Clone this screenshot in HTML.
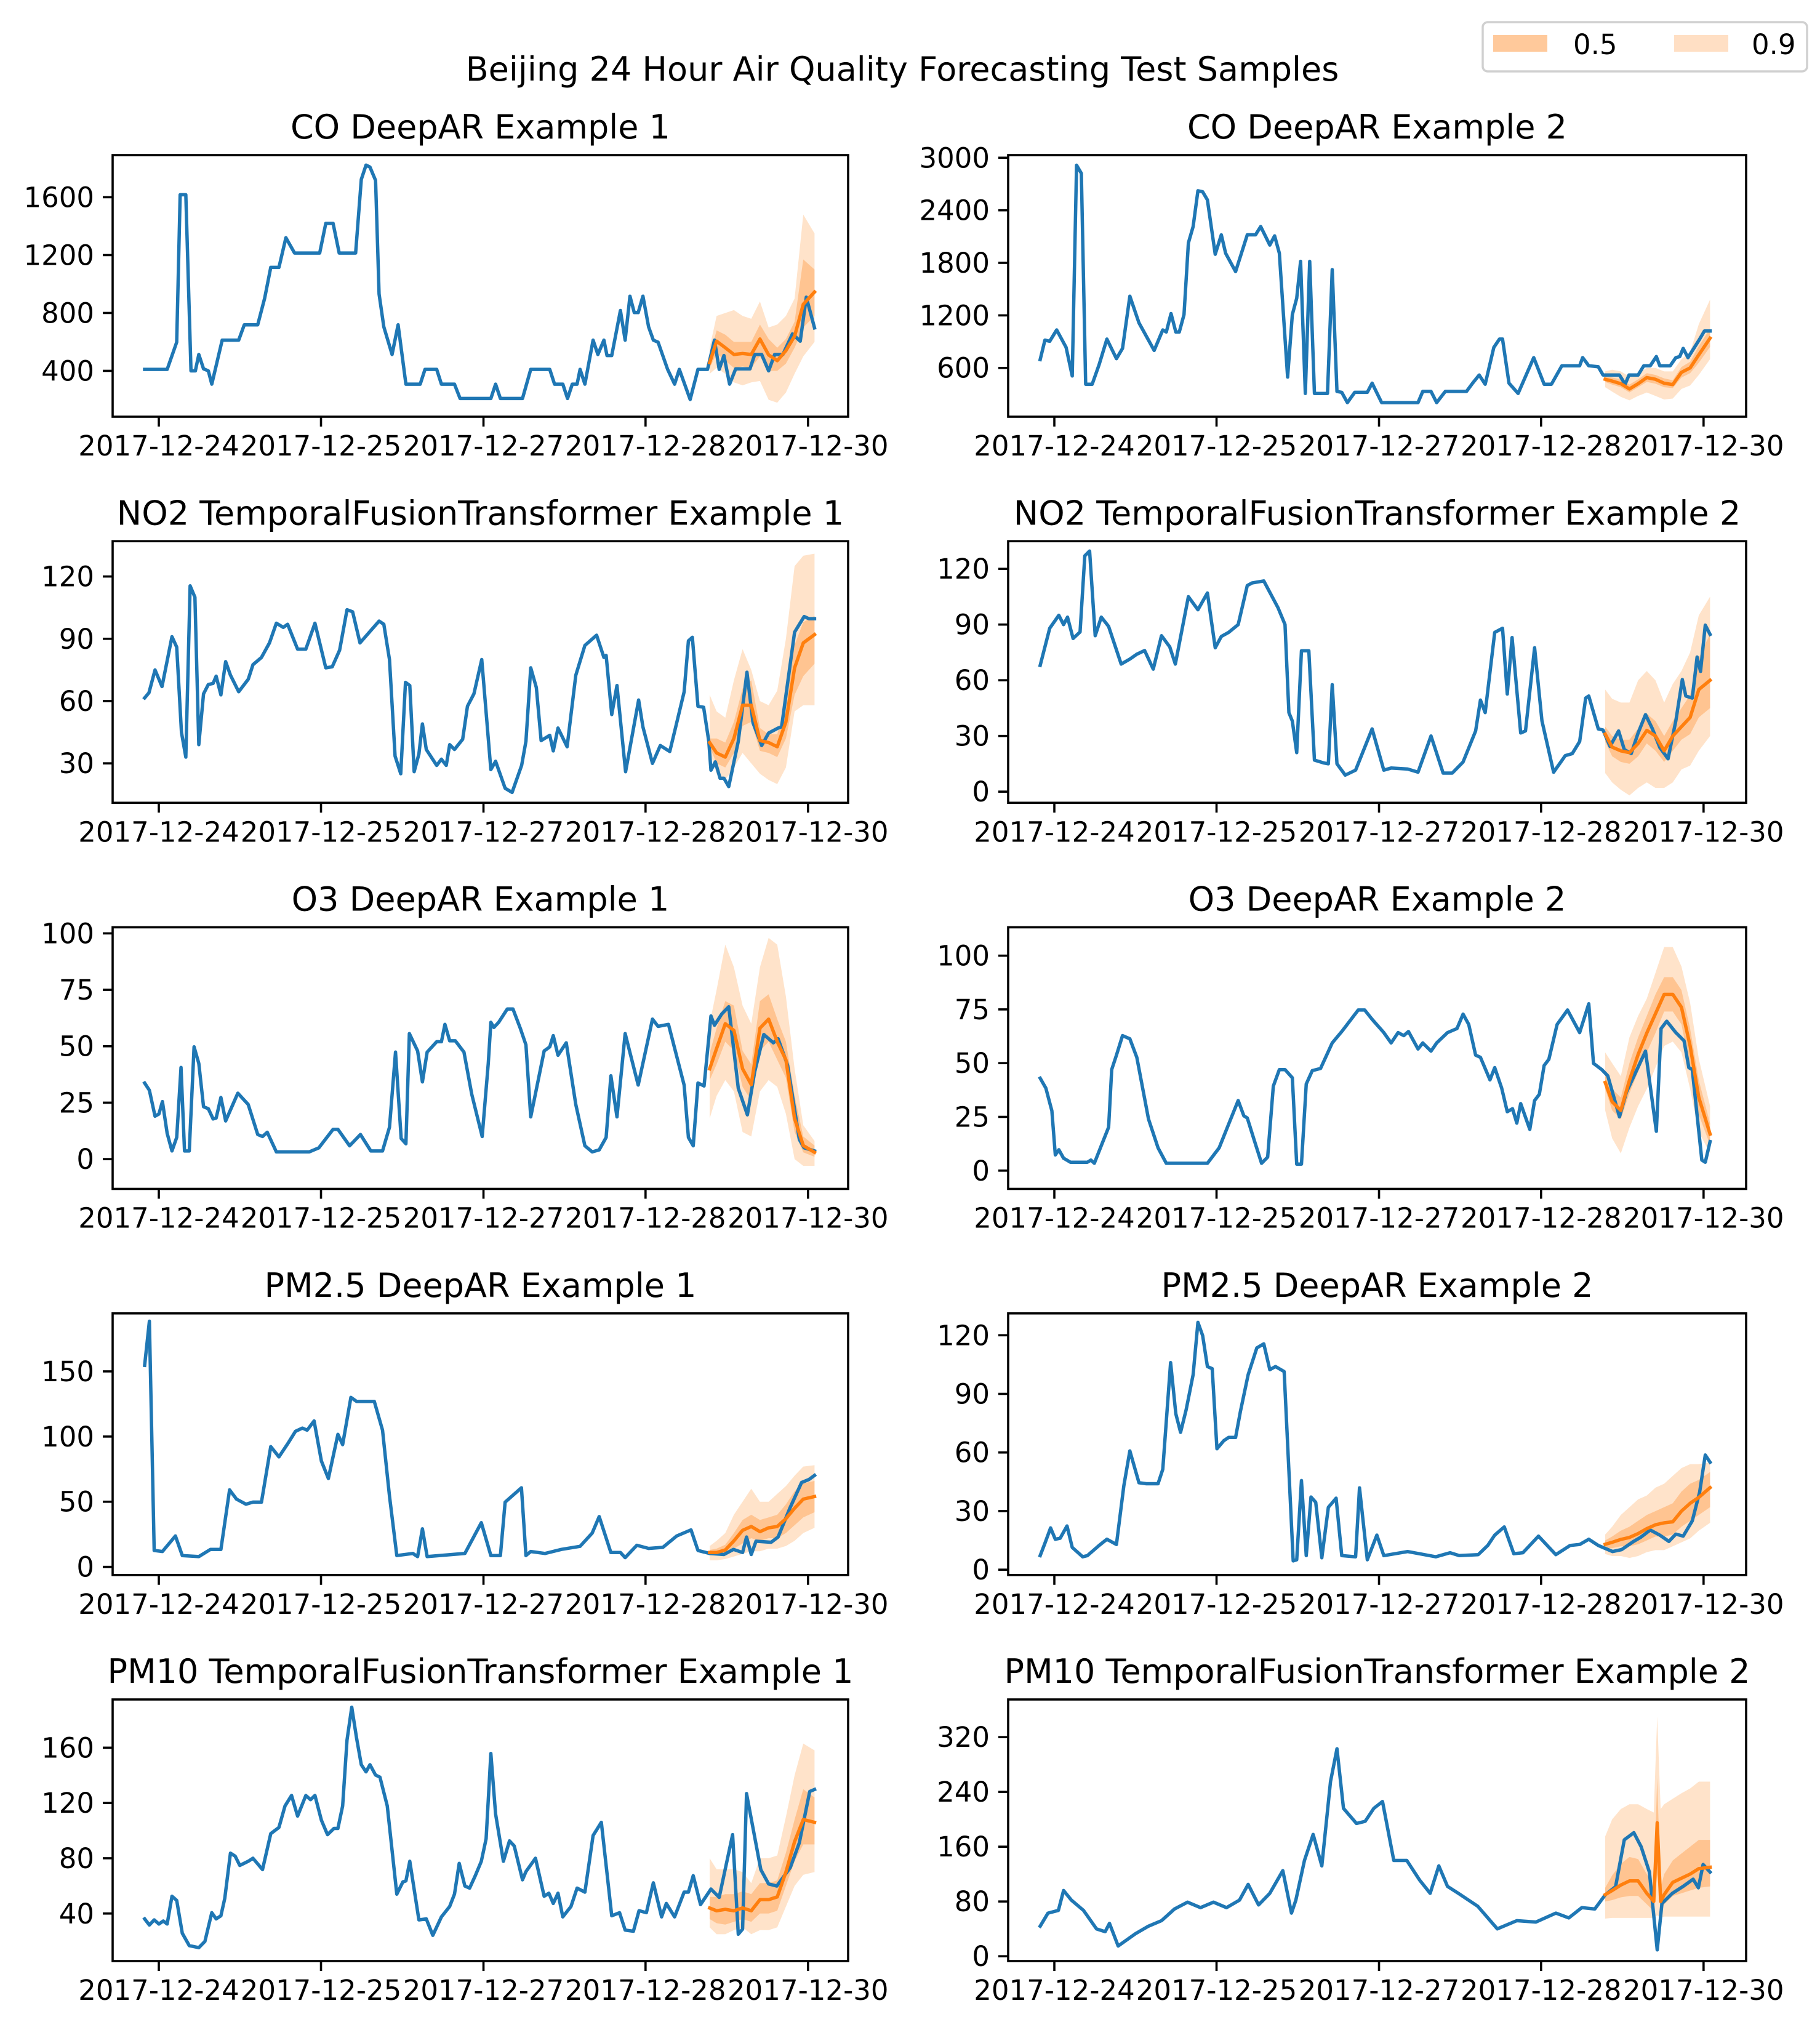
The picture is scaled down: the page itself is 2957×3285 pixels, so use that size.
<!DOCTYPE html>
<html><head><meta charset="utf-8"><title>Beijing 24 Hour Air Quality Forecasting Test Samples</title>
<style>
html,body{margin:0;padding:0;background:#fff;}
svg{display:block;font-family:"DejaVu Sans","Liberation Sans",sans-serif;}
</style></head>
<body>
<svg id="fig" width="2957" height="3285" viewBox="0 0 2957 3285" xmlns="http://www.w3.org/2000/svg">
<rect x="0" y="0" width="2957" height="3285" fill="#fff"/>
<text x="1466" y="131" font-size="54" text-anchor="middle" fill="#000">Beijing 24 Hour Air Quality Forecasting Test Samples</text>
<g>
<rect x="2409" y="36" width="527" height="80" rx="8" fill="#fff" stroke="#d0d0d0" stroke-width="3.5"/>
<rect x="2426" y="57" width="88" height="27" fill="#ffc99b"/>
<text x="2556" y="88" font-size="45" fill="#000">0.5</text>
<rect x="2720" y="57" width="88" height="27" fill="#ffdfc4"/>
<text x="2846" y="88" font-size="45" fill="#000">0.9</text>
</g>
<g id="panels"></g>
</svg>
<script>
// ---------- shared x-axis data ----------
const xTickH = [3.27, 40.7, 78.2, 115.6, 153.1];
const xTickLabels = ["2017-12-24", "2017-12-25", "2017-12-27", "2017-12-28", "2017-12-30"];
const fcHours = [130.4,132,134,136,138,140,142,144,146,148,150,152,154.6];

// ---------- CO DeepAR Example 1 ----------
const co1Ticks = [400,800,1200,1600];
const co1H = [0,5.2,7.4,8.2,9.5,10.7,11.7,12.5,13.6,14.7,15.5,17.9,21.7,23,26.1,27.7,29.1,31,32.6,34.6,40.4,41.8,43.5,44.9,48.7,50,51.1,52,53.3,54.1,55.2,57.1,58.5,60.3,63.6,64.7,67.4,68.5,71.5,72.8,79.9,81,82.1,87.2,89.1,93.5,94.6,96.5,97.6,98.7,99.8,100.5,101.6,103.5,104.6,106,106.7,107.8,109.8,110.9,112,113,113.9,115,116.3,117.4,118.5,120.7,122.3,123.4,125.9,127.7,129.9,131.5,132.6,133.7,135,136.4,139.7,140.8,142.4,144,145.4,147.3,149.5,151.3,152.7,154.6];
const co1V = [410,410,598,1617,1617,400,400,513,414,400,308,612,612,718,718,902,1115,1115,1320,1214,1214,1419,1419,1214,1214,1723,1822,1808,1716,931,704,513,718,308,308,410,410,308,308,209,209,308,209,209,410,410,308,308,209,308,308,410,308,612,513,612,506,506,817,612,916,803,803,916,704,612,598,410,308,410,202,410,410,612,410,506,308,414,414,513,513,400,513,513,655,605,909,697];
const co1Med = [457,605,560,513,520,513,620,510,470,540,640,860,945];
const co1Lo50 = [420,520,470,420,430,420,500,400,400,450,560,700,780];
const co1Hi50 = [500,680,650,600,600,600,720,620,560,620,740,1170,1100];
const co1Lo90 = [380,420,380,320,300,320,330,200,180,250,380,500,600];
const co1Hi90 = [560,780,800,820,780,760,880,700,720,780,900,1480,1350];

// ---------- CO DeepAR Example 2 ----------
const co2Ticks = [600,1200,1800,2400,3000];
const co2H = [0,1.1,2.2,3.8,5.98,7.4,8.4,9.5,10.5,12,13.6,15.4,17.6,19,20.7,22.8,26.3,28.3,29.1,30.2,31.3,32.1,33.2,34.2,35.3,36.4,37.5,38.6,40.4,41.8,42.8,45.1,47.8,49.7,50.9,53,54.1,55.2,57.1,58.2,59.2,60.1,61.2,62.2,63.3,66.3,67.4,68.5,69.6,70.9,72.6,75.5,76.6,78.8,87.2,88.3,90.2,91.5,93.5,98.4,99.8,101.3,102.7,104.7,106,106.7,108.2,110.3,113.9,116.3,118,120.4,124.5,125.2,126.6,128.8,129.9,133.7,135,135.9,138,139.3,140.8,142.2,143,145.4,146.7,147.6,148.4,149.5,152.2,153.3,154.6];
const co2V = [695,917,905,1034,835,508,2915,2822,414,414,636,929,706,823,1419,1115,800,1034,1010,1221,1010,1010,1209,2027,2214,2623,2611,2518,1898,2120,1910,1700,2120,2120,2214,2003,2108,1910,496,1209,1396,1817,309,1817,309,309,1723,332,321,204,321,321,426,204,204,332,332,204,332,332,426,519,414,835,929,929,426,309,718,414,414,625,625,718,625,613,519,519,414,519,519,625,625,730,625,625,718,730,823,718,929,1022,1022];
const co2Med = [470,450,420,360,420,490,470,425,410,550,600,750,940];
const co2Lo50 = [440,410,380,320,380,440,420,380,370,490,540,660,840];
const co2Hi50 = [500,490,470,410,470,540,520,480,460,610,670,850,1050];
const co2Lo90 = [380,330,270,230,280,320,280,240,250,360,400,520,700];
const co2Hi90 = [560,580,560,500,540,600,600,560,560,700,780,1100,1380];

// ---------- NO2 TFT Example 1 ----------
const no21Ticks = [30,60,90,120];
const no21H = [0,1,2.4,4,6.3,7.4,8.5,9.5,10.5,11.6,12.5,13.6,14.7,15.8,16.5,17.6,18.7,19.8,21.7,23.9,25,26.96,28.8,30.4,32,33,35.3,37.2,39.3,41.8,43.3,45,46.7,48,49.7,52.2,54.1,55.2,56.5,57.8,59.1,60.2,61.2,62.2,63.3,64.1,65,67.4,68.5,69.6,70.4,71.5,73.4,74.5,76,77.8,79.9,81,83.2,84.8,87,88,89.1,90.4,91.5,93.5,94.3,95.4,97.5,99.5,101.6,104.3,106,106.5,107.8,109,111,114,115,117.2,119,121.2,122.8,124.5,125.5,126.4,127.7,129,130.2,130.7,131.7,132.8,133.7,134.8,137,139,140.4,142.4,144,146.2,147,150,152.2,153.3,154.6];
const no21V = [61.5,64,75,67,91,86,45,33,115.5,110,39,63.5,68,68.5,72,63,79,72.5,64.5,70.5,77.5,81,88,97.5,95.5,97,85,85,97.5,76,76.5,84.5,104,103,88,94,98.5,97,80,33.5,25,69,67.5,26,34.5,49,36.7,29,32,29,39,36.7,41.6,57.5,63.5,80,27,31,18,16,29,40.6,76,66.5,41,43.5,36,47,38,72.4,86.8,91.7,81,82,53.5,67.5,26,60.5,47.5,30,38.6,35.7,49.6,64.4,89,90.7,57.5,57,40.6,26.7,30.7,22.8,22.8,18.8,40.6,73.9,49.6,38.6,44.6,47,47.6,93.2,100.7,99.7,99.7];
const no21Med = [40,35,33,42,58,58,41,40,38,50,76,88,92];
const no21Lo50 = [38,30,28,35,48,50,36,35,33,42,63,72,78];
const no21Hi50 = [42,42,40,50,66,70,47,44,44,60,87,98,101];
const no21Lo90 = [36,25,22,28,35,30,25,22,20,28,55,58,58];
const no21Hi90 = [63,55,52,70,85,75,60,58,65,90,125,130,131];

// ---------- NO2 TFT Example 2 ----------
const no22Ticks = [0,30,60,90,120];
const no22H = [0,2.2,4.3,5.4,6.3,7.6,9.2,10.3,11.4,12.7,14.1,15.8,18.7,20.7,22.3,24.1,26.1,28,29.9,31.2,34.2,36.4,38.6,40.4,41.8,43.5,45.7,47.8,48.9,51.6,54.9,56.5,57.4,58.2,59.2,60.3,62,63.3,65.4,66.5,67.4,68.5,70.4,72.8,76.6,79.3,81,84.8,87.2,90.2,93,95.1,97.6,100.5,101.6,102.7,104.9,106.7,107.8,108.9,110.9,112,114.1,115.8,118.5,121.2,122.8,124.5,125.9,126.6,128.8,129.9,131.5,133.5,134.8,136.4,138,139.7,141.3,143,144.9,146.7,148.2,149,150.5,151.6,152.4,153.5,154.6];
const no22V = [68,88,95,90,94,82.5,86,127,129.6,84,94,89,68.7,71.4,74,76,66,84,78,68.7,105,98,107,77.5,83.6,85.8,90,111,112.4,113.5,99,90,42.6,38,21,75.9,75.9,17,15.5,15,57.6,15,8.9,11.6,33.8,11.6,12.7,12.2,10.5,30,10,10,16,32.7,49.3,42.6,85.8,88,52.6,83,31.6,32.7,77.5,38.2,10.5,19.4,20.5,27,50.4,51.5,33.8,33.2,24.4,32.7,22.7,20.5,31.6,41.5,33.8,23.8,17.7,38.2,60.4,51.5,50.4,72.5,64.8,89.7,84.7];
const no22Med = [31,24,22,21,26,33,30,22,30,35,40,55,60];
const no22Lo50 = [27,19,16,15,19,26,22,16,22,28,31,40,45];
const no22Hi50 = [35,30,28,28,34,42,38,30,38,45,52,72,85];
const no22Lo90 = [10,5,1,-2,2,5,2,2,5,12,14,22,30];
const no22Hi90 = [55,50,48,48,60,65,60,48,58,65,75,95,105];

// ---------- O3 DeepAR Example 1 ----------
const o31Ticks = [0,25,50,75,100];
const o31H = [0,1.1,2.4,3.3,4.1,5.2,6.3,7.4,8.4,9.2,10.3,11.4,12.5,13.6,14.7,15.8,16.5,17.6,18.7,21.5,23.9,26.1,27.2,28.3,30.4,38,40.2,43.5,44.6,47.3,49.8,52.2,54.9,56.5,57.9,59.2,60.3,61.1,63,64.1,65.2,67.4,68.5,69.3,70.4,71.7,73.7,75.5,77.9,79.3,79.9,80.6,81.7,83.7,85,86.7,88,89.1,92.2,93.5,94.3,95.4,97.3,99.5,101.6,103.3,104.9,106.5,107.6,109,110.9,113.9,117.2,118.5,120.9,124.5,125.5,126.6,127.7,129.1,130.7,131.5,133.2,134.8,137,139.1,140.8,142.9,145.1,146.2,148.4,151.1,152.2,154.6];
const o31V = [33.7,30.5,19,20,25.5,11.4,3.6,9.6,40.6,3.6,3.6,49.7,42.4,23.2,22.3,17.8,18.2,27.3,16.9,29.2,24.2,10.9,10,11.9,3.2,3.2,5,13.2,13.2,5.9,10.9,3.6,3.6,14.1,47.4,9.1,6.8,55.6,47.9,34.2,47.4,52,52,59.7,52.4,52.4,47.4,28.7,10,42.4,60.6,58.3,60.6,66.5,66.5,57.9,50.6,18.7,47.9,49.7,54.7,46,51.5,24.2,5.9,3.2,4.1,9.6,36.9,18.7,55.6,32.8,62,58.8,59.7,32.8,9.6,5.9,33.7,32.4,63.4,59.3,64.3,67.5,31.4,19.6,38.7,55.2,51.5,53.3,41.5,8.7,5,3.6];
const o31Med = [40,49,60,57,40,33,58,62,52,44,18,6,3];
const o31Lo50 = [35,42,52,48,32,26,48,52,44,36,12,3,1];
const o31Hi50 = [47,58,70,68,48,42,70,73,62,52,28,10,6];
const o31Lo90 = [18,28,35,30,12,10,30,35,32,20,0,-3,-3];
const o31Hi90 = [60,75,95,85,68,60,85,98,95,72,40,15,8];

// ---------- O3 DeepAR Example 2 ----------
const o32Ticks = [0,25,50,75,100];
const o32H = [0,1.3,2.7,3.5,4.3,5.4,7,10.9,11.7,12.5,14.1,15.8,16.5,17.6,19,20.7,22.3,25,27.2,29.1,38.6,41.3,43.5,45.7,47,47.8,49.5,51.1,52.5,53.8,55.2,56.5,58.2,59.2,60.3,61.4,62.8,64.7,67.4,69.8,73.4,74.9,76.6,79.3,81,82.6,83.9,85,87.2,88.3,90.2,91.5,94,96.2,97.6,98.9,100.5,101.6,103.8,104.9,106.5,107.8,109,110,110.9,113,114.1,115.2,116.3,117.4,119.3,121.7,124.5,126.6,127.7,129.6,131,133.7,135.3,137.5,139.7,142.2,143.3,144.6,146.7,148.6,149.7,150.5,152.7,153.5,154.6];
const o32V = [43,38.4,27.8,7.3,9.7,5.8,3.9,3.9,4.9,3.4,11.6,20.2,47,53.7,62.8,61.3,52.7,24,10.6,3.4,3.4,10.6,21.6,32.6,25.5,24.5,13.5,3.4,6.3,39.3,47,47,43.2,3,3,40.3,46.5,47.5,59.4,65.2,74.7,74.7,70.4,64.2,59.4,64.2,62.8,64.7,56.6,59.4,55.6,59.4,64.2,66.1,72.8,68,53.7,52.7,42.2,47.9,38.4,27.4,28.8,22.1,31.2,19.2,32.6,35.5,48.9,51.8,68,74.7,64.2,77.6,49.9,47,44.1,25,36.5,46,55.6,18.3,66.1,69.5,64.2,60.4,47.9,47,4.9,3.9,13.5];
const o32Med = [41,32,28,42,54,64,73,82,82,76,58,34,17];
const o32Lo50 = [38,28,24,36,46,55,64,74,74,68,48,26,12];
const o32Hi50 = [45,38,34,50,62,72,82,90,90,84,66,42,22];
const o32Lo90 = [28,15,8,20,30,38,48,58,60,55,38,18,8];
const o32Hi90 = [55,50,44,62,72,80,92,104,104,95,78,52,30];

// ---------- PM2.5 DeepAR Example 1 ----------
const pm251Ticks = [0,50,100,150];
const pm251H = [0,1.1,2.2,4.1,7.1,8.7,12.5,15.2,17.6,19.6,21.2,23.4,25,26.96,29.1,31,33.2,34.8,36.4,37.5,39.1,40.8,42.4,44.6,45.7,47.6,48.9,53,54.9,56.5,58.2,61.9,63,64.1,65.2,73.9,77.7,79.9,82.1,83.2,86.96,88,89.1,92.4,96.2,100.5,103.3,104.9,107.6,109.8,110.9,113.6,116.3,119.6,122.8,126.1,127.7,130.4,133.7,135.9,138,138.9,140,141.1,144.6,146.2,148.9,151.6,153.3,154.6];
const pm251V = [154.6,188.5,12.6,11.8,23.7,8.7,7.9,13.4,13.4,59.1,52,48.1,49.7,49.7,92.3,84.4,95.4,104,106.5,104.9,112,81.2,67.8,101.7,93.8,130,127,127,104.9,54.4,8.7,10.3,7.9,29.2,7.9,10.3,33.9,8.7,8.7,49.7,60.7,8.7,11.8,10.3,13.4,15.8,26,38.6,11,11,7.1,16.6,14.2,15,23.7,28.4,12.6,10.3,9.5,13.4,11,22.9,9.5,19.7,18.9,22.9,45,64.7,67,70.2];
const pm251Med = [11,11,13,20,28,31,27,30,31,37,45,52,54];
const pm251Lo50 = [9,9,10,14,18,22,20,22,22,26,32,38,42];
const pm251Hi50 = [13,14,17,26,36,40,36,38,40,48,58,64,66];
const pm251Lo90 = [5,5,6,8,10,12,12,14,14,16,20,26,30];
const pm251Hi90 = [16,20,26,40,50,60,50,50,56,62,70,77,78];

// ---------- PM2.5 DeepAR Example 2 ----------
const pm252Ticks = [0,30,60,90,120];
const pm252H = [0,1.1,2.4,3.5,4.6,6.2,7.4,9.8,10.9,13.6,15.4,17.6,19.3,20.7,22.8,24.5,27.2,28.3,30.1,31.3,32.4,33.7,35.3,36.4,37.5,38.6,39.7,40.8,42.4,43.5,45.1,46.2,48,50,51.6,53,54.3,56.3,58.4,59.2,60.3,61.4,62.5,63.6,65,66.5,68.3,69.6,72.8,73.7,75.5,77.7,79.3,84.8,91.3,94.6,96.7,101.1,103.3,104.9,107.1,109.3,111.4,115,119,122.3,124.5,126.6,128.8,132.1,134.2,136.96,138.6,140.8,143,145.1,146.7,148.4,150.5,152.2,153.5,154.6];
const pm252V = [7.2,13.5,21.4,15.6,16.1,22.4,11.4,6.6,7.2,12.4,15.6,12.9,42.9,60.8,44.5,44,44,51.4,106,79.8,70.3,81.9,99.8,126.6,119.8,104,102.9,61.9,66.1,67.7,67.7,80.8,99.8,113.5,115.6,102.4,104,101.4,4.5,5.1,45.6,7.2,37.2,34.5,6.1,31.9,36.6,7.2,6.6,41.9,5.1,17.7,7.2,9.3,6.6,8.7,7.2,7.7,12.4,17.7,21.9,8.2,8.7,17.2,7.7,12.4,12.9,15.6,12.4,9.3,10.3,14.5,16.6,20.3,17.7,14.5,18.2,17.2,25,39.8,58.7,55];
const pm252Med = [13,14,15.5,16.5,18.5,21,23,24,24.5,30,34,37,42];
const pm252Lo50 = [11,11,12,12,13,15,17,17,18,22,25,28,32];
const pm252Hi50 = [15,17,20,22,25,28,30,32,34,40,44,46,50];
const pm252Lo90 = [8,7,7,6,7,9,10,10,12,14,16,20,24];
const pm252Hi90 = [18,22,28,32,36,38,42,44,48,52,54,54,55];

// ---------- PM10 TFT Example 1 ----------
const pm101Ticks = [40,80,120,160];
const pm101H = [0,1.1,2.2,3.3,4.3,5.2,6.3,7.4,8.7,10.3,12.5,13.9,15.5,16.5,17.6,18.5,19.8,20.9,21.96,23.9,25,27.2,29.1,31,32.4,33.9,35.3,37.2,38.3,39.3,40.8,42.2,43.7,44.6,45.7,46.7,47.8,48.9,50,51.1,52,53.3,54.3,56,58.2,59.6,60.3,61.2,63.3,65,66.5,68.5,70.4,71.5,72.6,73.9,75,76.3,77.7,78.8,79.9,81,82.8,84.2,85.3,87.2,88,90.2,92.2,93.3,94.3,95.4,96.5,98.4,99.8,101.6,103.5,105.4,107.8,109.6,110.9,112.8,114.1,115.8,117.4,119.3,120.4,122.3,124.5,125.5,126.6,128.3,130.7,132.6,135.7,137,138,138.9,142.2,144,145.9,149,151.1,153.5,154.6];
const pm101V = [36.1,31.7,35.4,32.4,34.6,32.4,52.5,49.5,25.7,16.8,15.3,19.8,40.6,36.1,38.4,51,83.7,81.5,74.8,77.8,80,71.8,97.8,102.3,117.9,125.4,110.5,125.4,122.4,125.4,107.5,97.1,101.6,101.6,117.9,165.5,189.3,167,147.7,142.5,147.7,140.2,138.7,117.9,54,62.9,63.6,77.8,35.4,36.1,24.2,37.6,45.1,54,76.3,59.9,58.4,67.4,77.8,94.1,155.8,112,77.8,92.6,88.9,64.4,70.3,80,52.5,54.7,47.3,54.7,37.6,45.1,58.4,55.5,96.4,106,38.4,40.6,28,27.2,42.1,40.6,62.2,37.6,47.3,37.6,55.5,55.5,67.4,46.5,57.7,51.7,97.1,25,28.7,126.8,71.8,61.4,59.9,73.3,91.2,128.3,129.8];
const pm101Med = [44,42,43,42,44,42,50,50,52,70,92,108,106];
const pm101Lo50 = [36,33,32,34,36,34,40,40,42,60,78,90,90];
const pm101Hi50 = [52,52,54,54,56,54,62,62,64,84,108,130,124];
const pm101Lo90 = [30,25,25,28,30,25,28,28,30,45,60,68,70];
const pm101Hi90 = [80,72,72,72,70,62,80,80,82,110,140,163,158];

// ---------- PM10 TFT Example 2 ----------
const pm102Ticks = [0,80,160,240,320];
const pm102H = [0,1.8,4.2,5.4,7.2,10,13,15,16,18,22,25,28,31,34,37,40,43,46,48,50.4,53,56,58,59,61,63,65,67,68.5,70,73,75,77,79,81.6,84.6,87.6,90,92,94,96.5,101,105.5,110,114.4,119,122,125,128,130.4,132.8,134.8,137,138.7,140.6,142.4,143.5,145.9,148.3,150.7,151.9,153,154.6];
const pm102V = [44,63,67,96,82,67,40,36,48,15,33,44,52,69,79,71,79,71,82,105,75,92,125,63,82,140,178,132,255,303,216,194,197,216,226,140,140,111,92,132,102,92,73,40,52,50,63,56,71,69,89.6,101.7,170,180.5,160,123,9.4,77,92,101.7,112.5,100,134,123];
const pm102FcH = [130.4,132,134,136,138,140,141.6,142.4,143.2,144,146,148,150,152,154.6];
const pm102Med = [90,96,104,110,110,92,80,195,80,90,108,114,120,128,130];
const pm102Lo50 = [80,82,86,88,88,76,66,120,66,76,88,92,96,100,102];
const pm102Hi50 = [100,118,135,145,142,120,100,260,100,120,140,150,160,170,170];
const pm102Lo90 = [55,56,56,56,56,56,56,60,56,58,58,58,58,58,58];
const pm102Hi90 = [175,200,215,222,222,215,210,350,215,222,230,238,245,255,255];

// ---------- rendering ----------
const NS = "http://www.w3.org/2000/svg";
const root = document.getElementById("panels");
const BLUE = "#1f77b4", ORANGE = "#ff7f0e";
const PX_PER_H = 7.04, H0_OFF = 52;

function mk(tag, attrs, parent) {
  const el = document.createElementNS(NS, tag);
  for (const k in attrs) el.setAttribute(k, attrs[k]);
  parent.appendChild(el);
  return el;
}

const panels = [
  {key:"co-1", title:"CO DeepAR Example 1", col:0, row:0, yMin:83, yMax:1891, ticks:co1Ticks, h:co1H, v:co1V, fh:fcHours, med:co1Med, lo50:co1Lo50, hi50:co1Hi50, lo90:co1Lo90, hi90:co1Hi90},
  {key:"co-2", title:"CO DeepAR Example 2", col:1, row:0, yMin:43, yMax:3030, ticks:co2Ticks, h:co2H, v:co2V, fh:fcHours, med:co2Med, lo50:co2Lo50, hi50:co2Hi50, lo90:co2Lo90, hi90:co2Hi90},
  {key:"no2-1", title:"NO2 TemporalFusionTransformer Example 1", col:0, row:1, yMin:11, yMax:137, ticks:no21Ticks, h:no21H, v:no21V, fh:fcHours, med:no21Med, lo50:no21Lo50, hi50:no21Hi50, lo90:no21Lo90, hi90:no21Hi90},
  {key:"no2-2", title:"NO2 TemporalFusionTransformer Example 2", col:1, row:1, yMin:-6, yMax:134.9, ticks:no22Ticks, h:no22H, v:no22V, fh:fcHours, med:no22Med, lo50:no22Lo50, hi50:no22Hi50, lo90:no22Lo90, hi90:no22Hi90},
  {key:"o3-1", title:"O3 DeepAR Example 1", col:0, row:2, yMin:-13.2, yMax:102.7, ticks:o31Ticks, h:o31H, v:o31V, fh:fcHours, med:o31Med, lo50:o31Lo50, hi50:o31Hi50, lo90:o31Lo90, hi90:o31Hi90},
  {key:"o3-2", title:"O3 DeepAR Example 2", col:1, row:2, yMin:-8.5, yMax:113.2, ticks:o32Ticks, h:o32H, v:o32V, fh:fcHours, med:o32Med, lo50:o32Lo50, hi50:o32Hi50, lo90:o32Lo90, hi90:o32Hi90},
  {key:"pm25-1", title:"PM2.5 DeepAR Example 1", col:0, row:3, yMin:-6.2, yMax:194.5, ticks:pm251Ticks, h:pm251H, v:pm251V, fh:fcHours, med:pm251Med, lo50:pm251Lo50, hi50:pm251Hi50, lo90:pm251Lo90, hi90:pm251Hi90},
  {key:"pm25-2", title:"PM2.5 DeepAR Example 2", col:1, row:3, yMin:-2.7, yMax:131.2, ticks:pm252Ticks, h:pm252H, v:pm252V, fh:fcHours, med:pm252Med, lo50:pm252Lo50, hi50:pm252Hi50, lo90:pm252Lo90, hi90:pm252Hi90},
  {key:"pm10-1", title:"PM10 TemporalFusionTransformer Example 1", col:0, row:4, yMin:5.6, yMax:194.9, ticks:pm101Ticks, h:pm101H, v:pm101V, fh:fcHours, med:pm101Med, lo50:pm101Lo50, hi50:pm101Hi50, lo90:pm101Lo90, hi90:pm101Hi90},
  {key:"pm10-2", title:"PM10 TemporalFusionTransformer Example 2", col:1, row:4, yMin:-7, yMax:375, ticks:pm102Ticks, h:pm102H, v:pm102V, fh:pm102FcH, med:pm102Med, lo50:pm102Lo50, hi50:pm102Hi50, lo90:pm102Lo90, hi90:pm102Hi90}
];

panels.forEach(function (p) {
  const L = p.col === 0 ? 183 : 1638;
  const W = p.col === 0 ? 1195 : 1199;
  const T = 252 + p.row * 627.25;
  const H = 425;
  const xS = function (h) { return L + H0_OFF + h * PX_PER_H; };
  const yS = function (v) { return T + H - (v - p.yMin) / (p.yMax - p.yMin) * H; };

  const g = mk("g", {}, root);
  
  

  const clipId = "clip-" + p.key;
  const cp = mk("clipPath", {id: clipId}, g);
  mk("rect", {x: L, y: T, width: W, height: H}, cp);

  const title = mk("text", {x: L + W / 2, y: T - 27, "font-size": 54, "text-anchor": "middle", fill: "#000"}, g);
  
  
  title.textContent = p.title;

  const plot = mk("g", {"clip-path": "url(#" + clipId + ")"}, g);
  
  

  function band(lo, hi, op, name) {
    let d = "";
    for (let i = 0; i < p.fh.length; i++) d += (i ? "L" : "M") + xS(p.fh[i]).toFixed(1) + "," + yS(lo[i]).toFixed(1);
    for (let i = p.fh.length - 1; i >= 0; i--) d += "L" + xS(p.fh[i]).toFixed(1) + "," + yS(hi[i]).toFixed(1);
    const el = mk("path", {d: d + "Z", fill: ORANGE, "fill-opacity": op, stroke: "none"}, plot);
    
    
  }
  band(p.lo90, p.hi90, 0.22, 'quantile-band-0-9');
  band(p.lo50, p.hi50, 0.3, 'quantile-band-0-5');

  let d = "";
  const n = Math.min(p.h.length, p.v.length);
  for (let i = 0; i < n; i++) d += (i ? "L" : "M") + xS(p.h[i]).toFixed(1) + "," + yS(p.v[i]).toFixed(1);
  const obs = mk("path", {d: d, fill: "none", stroke: BLUE, "stroke-width": 5.5, "stroke-linejoin": "round", "stroke-linecap": "square"}, plot);
  
  

  let dm = "";
  for (let i = 0; i < p.fh.length; i++) dm += (i ? "L" : "M") + xS(p.fh[i]).toFixed(1) + "," + yS(p.med[i]).toFixed(1);
  const med = mk("path", {d: dm, fill: "none", stroke: ORANGE, "stroke-width": 5.5, "stroke-linejoin": "round", "stroke-linecap": "square"}, plot);
  
  

  const frame = mk("rect", {x: L, y: T, width: W, height: H, fill: "none", stroke: "#000", "stroke-width": 3.6}, g);
  
  

  const xa = mk("g", {}, g);
  
  
  xTickH.forEach(function (th, i) {
    const x = xS(th);
    const tk = mk("line", {x1: x, y1: T + H, x2: x, y2: T + H + 16, stroke: "#000", "stroke-width": 3.6}, xa);
    
    
    const lb = mk("text", {x: x, y: T + H + 63, "font-size": 45, "text-anchor": "middle", fill: "#000"}, xa);
    
    
    lb.textContent = xTickLabels[i];
  });

  const ya = mk("g", {}, g);
  
  
  p.ticks.forEach(function (tv) {
    const y = yS(tv);
    const tk = mk("line", {x1: L - 16, y1: y, x2: L, y2: y, stroke: "#000", "stroke-width": 3.6}, ya);
    
    
    const lb = mk("text", {x: L - 30, y: y + 16, "font-size": 45, "text-anchor": "end", fill: "#000"}, ya);
    
    
    lb.textContent = String(tv);
  });
});
</script>
</body></html>
